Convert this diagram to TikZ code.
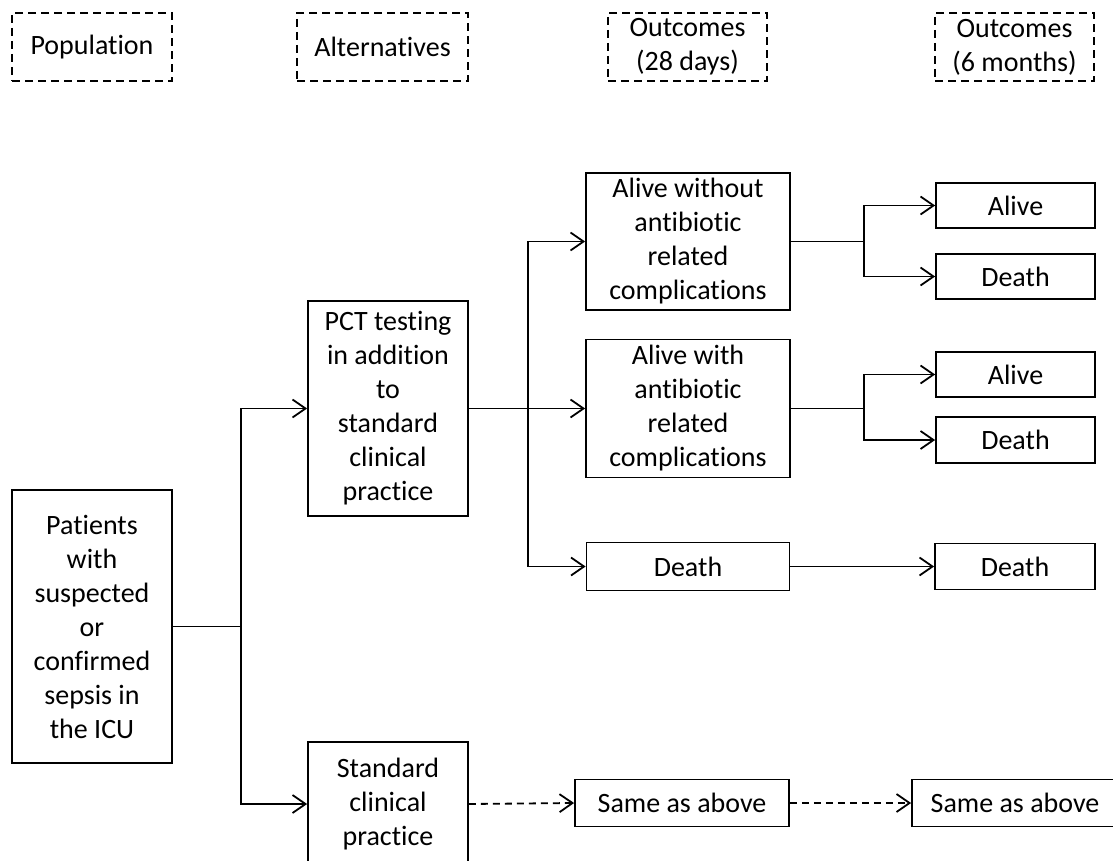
\documentclass[tikz,border=0pt]{standalone}
\usepackage{fontspec}
\setmainfont{Carlito}[Ligatures=NoCommon]
\usetikzlibrary{arrows.meta}
\begin{document}
\begin{tikzpicture}[x=0.5pt,y=-0.5pt,
  font=\fontsize{14pt}{17pt}\selectfont,
  boxnode/.style={draw, line width=0.9pt, align=center, inner sep=0pt},
  hdr/.style={boxnode, dash pattern=on 4pt off 2.5pt, minimum height=34pt},
  plain/.style={line width=0.9pt},
  link/.style={line width=0.9pt, -{Straight Barb[length=6.5pt,width=9pt,line width=0.9pt]}},
  dlink/.style={link, dash pattern=on 3.5pt off 2.5pt}]
\clip (0,0) rectangle (1113,861);

% column headers
\node[hdr, minimum width=80pt]   (pop) at (92,47)     {Population};
\node[hdr, minimum width=85.5pt] (alt) at (382.5,47)  {Alternatives};
\node[hdr, minimum width=79.5pt] (o28) at (687.5,47)  {Outcomes\\(28 days)};
\node[hdr, minimum width=79.5pt] (o6)  at (1014.5,47) {Outcomes\\(6 months)};

% population and alternatives
\node[boxnode, minimum width=80pt, minimum height=136.5pt] (pat) at (92,626.5)
  {Patients\\with\\suspected\\or\\confirmed\\sepsis in\\the ICU};
\node[boxnode, minimum width=80pt, minimum height=107.5pt] (pct) at (388,408.5)
  {PCT testing\\in addition\\to\\standard\\clinical\\practice};
\node[boxnode, minimum width=80pt, minimum height=62pt] (std) at (388,804)
  {Standard\\clinical\\practice};

% outcomes at 28 days
\node[boxnode, minimum width=102pt, minimum height=68.5pt] (aw) at (688,241.5)
  {Alive without\\antibiotic\\related\\complications};
\node[boxnode, minimum width=102pt, minimum height=69pt] (awi) at (688,408.5)
  {Alive with\\antibiotic\\related\\complications};
\node[boxnode, minimum width=101.5pt, minimum height=24pt] (d28) at (688,566.5) {Death};
\node[boxnode, minimum width=107pt, minimum height=23.5pt] (sa1) at (682,803) {Same as above};

% outcomes at 6 months
\node[boxnode, minimum width=79.5pt, minimum height=22.5pt] (a6a) at (1015.5,205.5) {Alive};
\node[boxnode, minimum width=79.5pt, minimum height=22.5pt] (d6a) at (1015.5,276.5) {Death};
\node[boxnode, minimum width=79.5pt, minimum height=22.5pt] (a6b) at (1015.5,374.5) {Alive};
\node[boxnode, minimum width=79.5pt, minimum height=23pt]   (d6b) at (1015.5,440)   {Death};
\node[boxnode, minimum width=80pt,   minimum height=23pt]   (d6c) at (1015,566.5)   {Death};
\node[boxnode, minimum width=103pt,  minimum height=23.5pt] (sa2) at (1015,803)     {Same as above};

% branch points
\coordinate (j1) at ([xshift=34pt]pat.east);
\coordinate (j2) at ([xshift=29.5pt]pct.east);
\coordinate (j3) at ([xshift=36.5pt]aw.east);
\coordinate (j4) at ([xshift=36.5pt]awi.east);

% connectors
\draw[plain] (pat.east) -- (j1);
\draw[link] (j1) |- (pct.west);
\draw[link] (j1) |- (std.west);

\draw[plain] (pct.east) -- (j2);
\draw[link] (j2) |- (aw.west);
\draw[link] (j2) -- (awi.west);
\draw[link] (j2) |- (d28.west);

\draw[plain] (aw.east) -- (j3);
\draw[link] (j3) |- (a6a.west);
\draw[link] (j3) |- (d6a.west);

\draw[plain] (awi.east) -- (j4);
\draw[link] (j4) |- (a6b.west);
\draw[link] (j4) |- (d6b.west);

\draw[link] (d28.east) -- (d6c.west);

\draw[dlink] (std.east) -- (sa1.west);
\draw[dlink] (sa1.east) -- (sa2.west);
\end{tikzpicture}
\end{document}
